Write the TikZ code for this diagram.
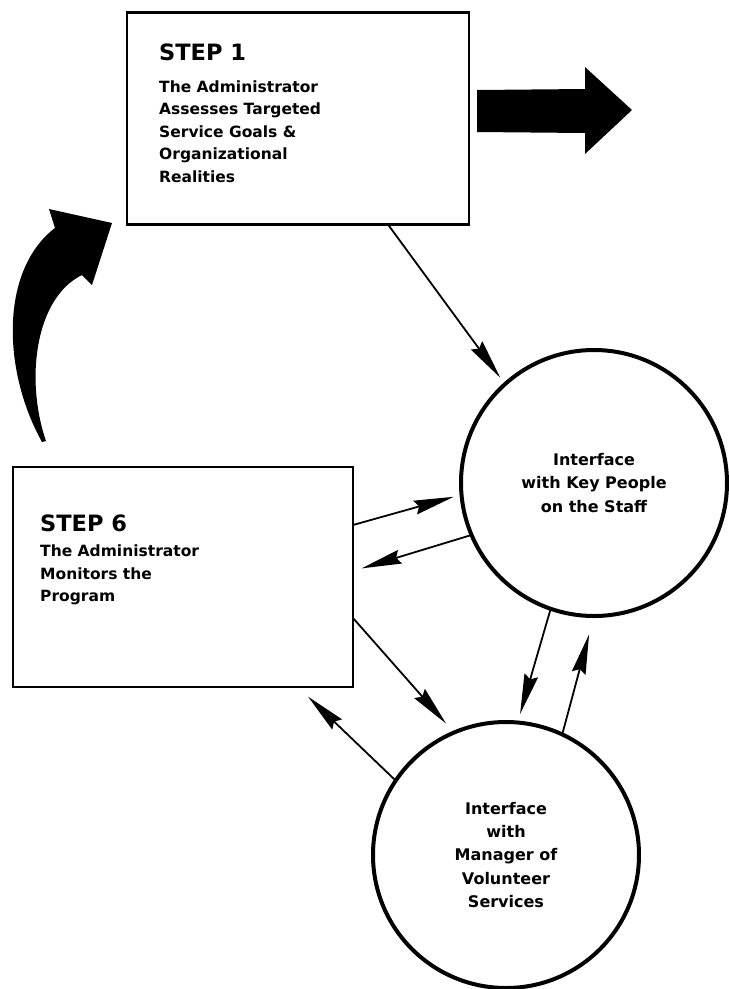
\documentclass[tikz,border=0pt]{standalone}
\usepackage{fontspec}
\setmainfont{DejaVu Sans}
\usetikzlibrary{arrows.meta,positioning}

\begin{document}
\begin{tikzpicture}[
    x=1pt, y=-1pt,
    stepbox/.style={rectangle, draw, line width=2.7pt, minimum width=342pt, minimum height=212pt, outer sep=0pt},
    steptitle/.style={inner sep=0pt, font=\bfseries\fontsize{22.5}{27}\selectfont},
    steptext/.style={inner sep=0pt, align=left, font=\bfseries\fontsize{15.5}{22.5}\selectfont},
    contact/.style={circle, draw, line width=4pt, minimum size=266pt, outer sep=0pt, align=center, font=\bfseries\fontsize{16}{23.3}\selectfont},
    arrow/.style={-{Stealth[length=40pt,width=14pt,inset=4pt]}, line width=1.8pt},
    bigarrow/.style={fill=black}
]
    \useasboundingbox (0,0) rectangle (729,989);

    \node[stepbox] (step1) at (298,118.5) {};
    \node[steptitle, below right=31pt and 32pt of step1.north west] (title1) {STEP 1};
    \node[steptext, below right=68pt and 32pt of step1.north west] (text1) {The Administrator\\Assesses Targeted\\Service Goals \&\\Organizational\\Realities};

    \node[stepbox, minimum width=340pt, minimum height=220pt] (step6) at (183,577) {};
    \node[steptitle, below right=48pt and 27pt of step6.north west] (title6) {STEP 6};
    \node[steptext, below right=78pt and 27pt of step6.north west] (text6) {The Administrator\\Monitors the\\Program};

    \node[contact] (staff) at (594,483) {Interface\\with Key People\\on the Staff};
    \node[contact] (volunteer) at (506,855) {Interface\\with\\Manager of\\Volunteer\\Services};

    \draw[arrow, shorten >=8pt] ([xshift=90pt]step1.south) -- (staff.132);
    \draw[arrow, shorten >=8pt] ([yshift=52pt]step6.east) -- (staff.185);
    \draw[arrow, shorten >=9pt] (staff.203) -- ([yshift=6pt]step6.east);
    \draw[arrow, shorten >=12pt] ([yshift=-41pt]step6.east) -- (volunteer.113);
    \draw[arrow, shorten >=14pt] (volunteer.146) -- ([xshift=-55pt]step6.south east);
    \draw[arrow, shorten >=9pt] (staff.251) -- (volunteer.85);
    \draw[arrow, shorten >=19pt] (volunteer.65) -- (staff.270);

    \fill[bigarrow] (477,90) -- (585,89) -- (585,67) -- (632,110) -- (585,154) -- (585,133) -- (477,132) -- cycle;
    \fill[bigarrow] (42,442) .. controls (2,370) and (0,270) .. (55,228) -- (49,209) -- (112,223) -- (92,285) -- (82,275) .. controls (35,298) and (25,380) .. (46,441) -- cycle;
\end{tikzpicture}
\end{document}
